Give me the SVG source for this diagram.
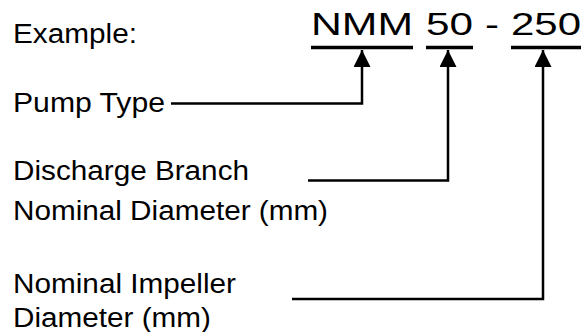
<svg xmlns="http://www.w3.org/2000/svg" width="588" height="332" viewBox="0 0 588 332">
<style>
text{font-family:"Liberation Sans",Arial,sans-serif;fill:#000}
.lbl{font-size:27px}
.code{font-size:31px}
.ul{stroke:#000;stroke-width:3.5}
.conn{fill:none;stroke:#000;stroke-width:2.5}
</style>
<defs>
<marker id="ah" viewBox="0 0 10 10" refX="10" refY="5" markerWidth="17" markerHeight="17" markerUnits="userSpaceOnUse" orient="auto">
<path d="M0,0 L10,5 L0,10 Z" fill="#000"/>
</marker>
</defs>
<rect width="588" height="332" fill="#fff"/>
<g id="example"><text class="lbl" x="13" y="42.5" textLength="124" lengthAdjust="spacingAndGlyphs">Example:</text></g>
<g id="code">
<text class="code" x="311" y="35" textLength="102" lengthAdjust="spacingAndGlyphs">NMM</text>
<text class="code" x="426" y="35" textLength="47" lengthAdjust="spacingAndGlyphs">50</text>
<text class="code" x="485" y="35" textLength="14" lengthAdjust="spacingAndGlyphs">-</text>
<text class="code" x="511" y="35" textLength="70" lengthAdjust="spacingAndGlyphs">250</text>
<line class="ul" x1="311" y1="47.5" x2="413" y2="47.5"/>
<line class="ul" x1="426" y1="47.5" x2="473" y2="47.5"/>
<line class="ul" x1="511" y1="47.5" x2="581" y2="47.5"/>
</g>
<g id="pump-type"><text class="lbl" x="13" y="112" textLength="152" lengthAdjust="spacingAndGlyphs">Pump Type</text></g>
<g id="discharge"><text class="lbl" x="13" y="180" textLength="236" lengthAdjust="spacingAndGlyphs">Discharge Branch</text><text class="lbl" x="13" y="220" textLength="315" lengthAdjust="spacingAndGlyphs">Nominal Diameter (mm)</text></g>
<g id="impeller"><text class="lbl" x="13" y="293" textLength="223" lengthAdjust="spacingAndGlyphs">Nominal Impeller</text><text class="lbl" x="13" y="326.5" textLength="198" lengthAdjust="spacingAndGlyphs">Diameter (mm)</text></g>
<g id="connectors">
<path class="conn" d="M171,103.5 H362 V50" marker-end="url(#ah)"/>
<path class="conn" d="M308,180.5 H448 V50" marker-end="url(#ah)"/>
<path class="conn" d="M292,299 H543 V50" marker-end="url(#ah)"/>
</g>
</svg>
